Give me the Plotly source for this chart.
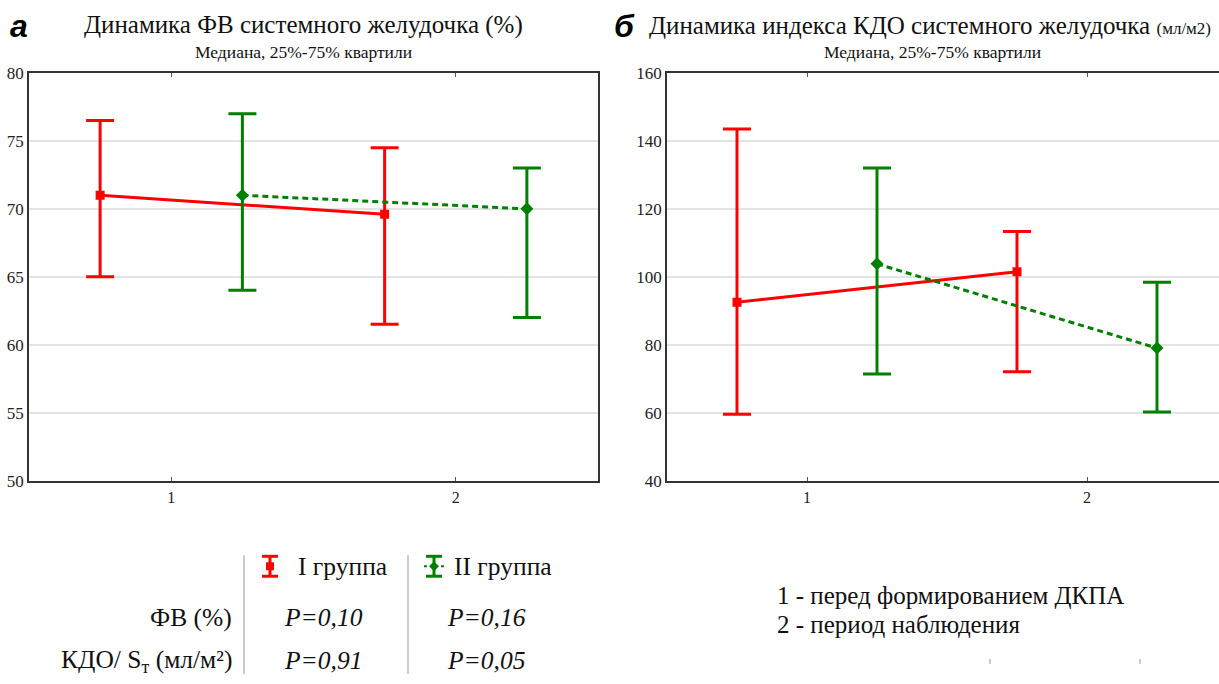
import plotly.graph_objects as go

W, H = 1219, 684

# data: median and quartiles, x positions are period (1, 2) with group offset
periods = [1, 2]
offset = 0.25

ef_g1_med = [71.0, 69.6]
ef_g1_q25 = [65.0, 61.5]
ef_g1_q75 = [76.5, 74.5]
ef_g2_med = [71.0, 70.0]
ef_g2_q25 = [64.0, 62.0]
ef_g2_q75 = [77.0, 73.0]

edv_g1_med = [92.5, 101.5]
edv_g1_q25 = [59.5, 72.0]
edv_g1_q75 = [143.5, 113.3]
edv_g2_med = [103.8, 79.0]
edv_g2_q25 = [71.4, 60.2]
edv_g2_q75 = [132.0, 98.4]

RED = "#ff0000"
GREEN = "#008000"
SERIF = "Liberation Serif"
SANS = "Liberation Sans"

# the photographed page ends up slightly squeezed vertically; compensate
V_OFF, V_SCALE = 7.8, 0.9756


def px(x):
    return x / W


def py(y):
    yf = (y - V_OFF) / V_SCALE
    return min(1.0, max(0.0, 1 - yf / H))


def series(xs, med, lo, hi, color, symbol, dash, xa, ya):
    return go.Scatter(
        x=xs,
        y=med,
        mode="lines+markers",
        line=dict(color=color, width=3, dash=dash),
        marker=dict(color=color, symbol=symbol, size=10 if symbol == "diamond" else 9),
        error_y=dict(
            type="data",
            symmetric=False,
            array=[h - m for h, m in zip(hi, med)],
            arrayminus=[m - l for m, l in zip(med, lo)],
            color=color,
            thickness=3,
            width=14,
        ),
        xaxis=xa,
        yaxis=ya,
        showlegend=False,
    )


x_g1 = [p - offset for p in periods]
x_g2 = [p + offset for p in periods]

fig = go.Figure()
fig.add_trace(series(x_g1, ef_g1_med, ef_g1_q25, ef_g1_q75, RED, "square", "solid", "x", "y"))
fig.add_trace(series(x_g2, ef_g2_med, ef_g2_q25, ef_g2_q75, GREEN, "diamond", "6px,4px", "x", "y"))
fig.add_trace(series(x_g1, edv_g1_med, edv_g1_q25, edv_g1_q75, RED, "square", "solid", "x2", "y2"))
fig.add_trace(series(x_g2, edv_g2_med, edv_g2_q25, edv_g2_q75, GREEN, "diamond", "6px,4px", "x2", "y2"))

xaxis_common = dict(
    tickvals=periods,
    ticks="inside",
    ticklen=4,
    tickcolor="#555",
    showgrid=False,
    zeroline=False,
    showline=True,
    linecolor="#333",
    linewidth=1.5,
    mirror="ticks",
    ticklabelstandoff=1,
    tickfont=dict(family=SERIF, size=16, color="#222"),
)
yaxis_common = dict(
    showgrid=True,
    gridcolor="#e3e3e3",
    gridwidth=1.5,
    zeroline=False,
    showline=True,
    linecolor="#333",
    linewidth=1.5,
    ticks="",
    tickfont=dict(family=SERIF, size=17, color="#222"),
)

fig.update_layout(
    width=W,
    height=H,
    margin=dict(l=0, r=0, t=0, b=0),
    paper_bgcolor="white",
    plot_bgcolor="white",
    font=dict(family=SERIF),
    xaxis=dict(xaxis_common, domain=[px(29), px(598)], range=[0.5, 2.5], anchor="y"),
    yaxis=dict(yaxis_common, domain=[py(481), py(72)], range=[50, 80], dtick=5, mirror=True, anchor="x"),
    xaxis2=dict(xaxis_common, domain=[px(667), 1.0], range=[0.5, 0.5 + (W - 667) / 280], anchor="y2"),
    yaxis2=dict(yaxis_common, domain=[py(481), py(72)], range=[40, 160], dtick=20, anchor="x2"),
)

ann = []


def text(x, y, s, size, xanchor="center", family=SERIF, color="#111"):
    ann.append(dict(x=px(x), y=py(y), xref="paper", yref="paper", text=s, showarrow=False,
                    xanchor=xanchor, yanchor="middle", font=dict(family=family, size=size, color=color)))


# panel titles
text(19, 25, "<b><i>а</i></b>", 32, "center", SANS, "#000")
text(303, 24, "Динамика ФВ системного желудочка (%)", 25)
text(303, 51, "Медиана, 25%-75% квартили", 17.5)
text(624, 25, "<b><i>б</i></b>", 32, "center", SANS, "#000")
text(647, 24, "Динамика индекса КДО системного желудочка <span style='font-size:17px'>(мл/м2)</span>", 25, "left")
text(932, 51, "Медиана, 25%-75% квартили", 17.5)

# bottom table
text(296, 567, "I группа", 25.5, "left")
text(452, 567, "II группа", 25.5, "left")
text(234, 618, "ФВ (%)", 25.5, "right")
text(234, 662, "КДО/ S<sub>т</sub> (мл/м²)", 25.5, "right")
text(323, 618, "<i>P=0,10</i>", 25.5)
text(486, 618, "<i>P=0,16</i>", 25.5)
text(323, 662, "<i>P=0,91</i>", 25.5)
text(486, 662, "<i>P=0,05</i>", 25.5)

text(775, 596, "1 - перед формированием ДКПА", 25, "left")
text(775, 625, "2 - период наблюдения", 25, "left")

fig.update_layout(annotations=ann)

shapes = []


def seg(x0, y0, x1, y1, color, width, dash="solid"):
    shapes.append(dict(type="line", xref="paper", yref="paper", x0=px(x0), y0=py(y0), x1=px(x1), y1=py(y1),
                       line=dict(color=color, width=width, dash=dash)))


# table separators
seg(244, 556, 244, 700, "#bbbbbb", 1.5)
seg(408, 556, 408, 700, "#bbbbbb", 1.5)

# legend glyphs: small error bar icons
for cx, color, sym in [(270, RED, "square"), (434, GREEN, "diamond")]:
    seg(cx, 557, cx, 577, color, 3)
    seg(cx - 8, 557, cx + 8, 557, color, 3)
    seg(cx - 8, 577, cx + 8, 577, color, 3)
    if sym == "square":
        shapes.append(dict(type="rect", xref="paper", yref="paper", x0=px(cx - 4), x1=px(cx + 4),
                           y0=py(571), y1=py(563), fillcolor=color, line=dict(width=0)))
    else:
        shapes.append(dict(type="path", xref="paper", yref="paper",
                           path=f"M {px(cx)} {py(562)} L {px(cx + 5)} {py(567)} L {px(cx)} {py(572)} L {px(cx - 5)} {py(567)} Z",
                           fillcolor=color, line=dict(width=0)))
        seg(cx - 10, 567, cx - 7, 567, color, 2)
        seg(cx + 7, 567, cx + 10, 567, color, 2)

# small stray ticks at the bottom right
seg(990, 660, 990, 665, "#999", 1)
seg(1140, 660, 1140, 665, "#999", 1)

fig.update_layout(shapes=shapes)

# pin the figure to the window origin, without the default page margin
pin = (
    "document.body.style.margin='0';document.body.style.overflow='hidden';"
    "var d=document.getElementsByClassName('plotly-graph-div')[0];"
    "d.style.position='fixed';d.style.left='0px';d.style.top='0px';"
)
fig.write_html("out.html", config={"displayModeBar": False}, post_script=pin)
